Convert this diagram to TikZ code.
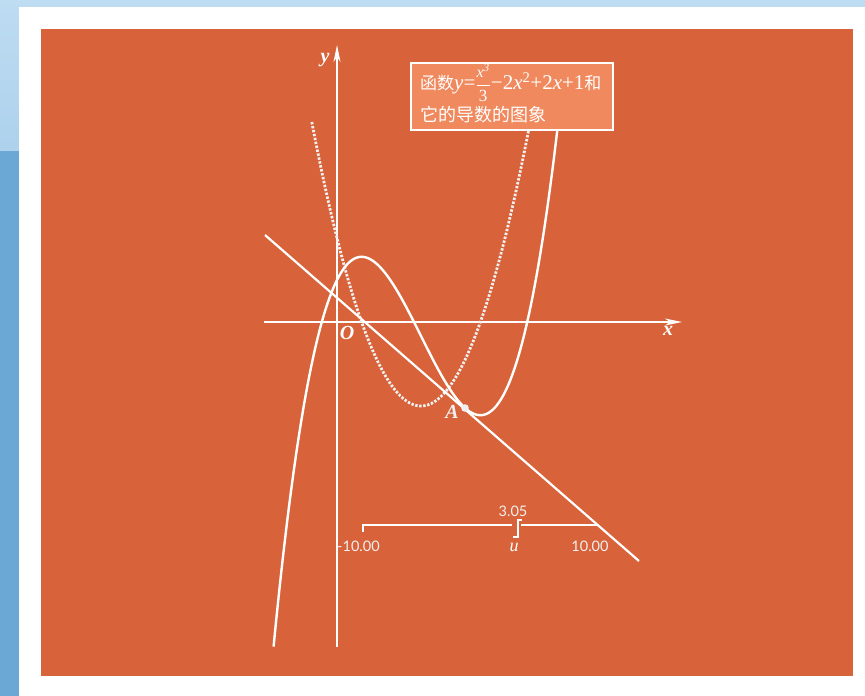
\documentclass[tikz,border=0pt]{standalone}
\usepackage{fontspec}
\setmainfont{Liberation Serif}
\newfontfamily\cjk{Noto Sans CJK SC}
\newfontfamily\numfont{Lato}
\usetikzlibrary{arrows.meta}
\definecolor{orng}{RGB}{216,98,57}
\definecolor{boxfill}{RGB}{240,138,94}
\definecolor{bluebg}{RGB}{108,168,214}
\definecolor{bluelt}{RGB}{190,220,242}
\definecolor{dotc}{RGB}{240,240,240}
\tikzset{
  axis/.style={draw=white, line width=1.6pt, -{Stealth[length=17pt,width=7pt,inset=5pt]}},
  curve/.style={draw=white, line width=2.4pt},
  dcurve/.style={draw=dotc, line width=2.8pt, dash pattern=on 2.4pt off 1.6pt},
  lbl/.style={text=white, font=\fontsize{20}{20}\selectfont\bfseries\itshape, inner sep=0pt},
  num/.style={text=dotc, font=\fontsize{14.5}{14.5}\selectfont\numfont, inner sep=0pt},
  slider/.style={draw=white, line width=1.8pt},
}
\begin{document}
\begin{tikzpicture}[x=1pt,y=-1pt]
\useasboundingbox (0,0) rectangle (865,696);
% background
\fill[bluebg] (0,0) rectangle (865,696);
\shade[top color=bluelt, bottom color=bluelt!80!bluebg] (0,0) rectangle (865,150);
\fill[white] (19,7) rectangle (865,696);
\fill[orng] (41,29) rectangle (853,676);
% axes
\coordinate (xs) at (264,322);
\coordinate (xe) at (682,322);
\coordinate (ys) at (337,647);
\coordinate (ye) at (337,45);
\draw[axis] (xs) -- (xe);
\draw[axis] (ys) -- (ye);
% derivative (dotted)
\draw[dcurve] plot[domain=-0.6:4.7, samples=120, smooth]
  ({337+42*\x},{322-42*(\x*\x-4*\x+2)});
% cubic
\draw[curve] plot[domain=-1.51:5.3, samples=160, smooth]
  ({337+42*\x},{322-42*(\x*\x*\x/3-2*\x*\x+2*\x+1)});
% tangent line
\coordinate (L1) at (265,235);
\coordinate (L2) at (639,561);
\draw[curve, line width=2.2pt] (L1) -- (L2);
% point A
\coordinate (A) at (465,408);
\fill[dotc] (A) circle (3.8pt);
% labels
\node[lbl] (ylab) at (325,60) {y};
\node[lbl] (xlab) at (668,331) {x};
\node[lbl] (olab) at (347,333) {O};
\node[lbl, text=dotc] (alab) at (452,412) {A};
% slider
\coordinate (s0) at (363,532);
\coordinate (s1) at (363,525);
\coordinate (s2) at (512,525);
\coordinate (k1) at (513,537);
\coordinate (k2) at (518,537);
\coordinate (k3) at (518,520);
\coordinate (k4) at (522,520);
\coordinate (s3) at (521,525);
\coordinate (s4) at (597,525);
\draw[slider] (s0) -- (s1) -- (s2);
\draw[slider] (k1) -- (k2) -- (k3) -- (k4);
\draw[slider] (s3) -- (s4);
\node[num] (uval) at (513,511) {3.05};
\node[lbl, font=\fontsize{18}{18}\selectfont\itshape] (ulab) at (514,547) {u};
\node[num, anchor=west] (umin) at (337,546) {-10.00};
\node[num] (umax) at (590,546) {10.00};
% title box
\node[draw=white, line width=2pt, fill=boxfill, minimum width=202pt, minimum height=67pt, inner sep=0pt] (box) at (512,96) {};
\node[anchor=west, text=white, inner sep=0pt, font=\fontsize{17}{17}\selectfont] (t1) at (420,83)
  {{\cjk 函数}{\fontsize{21}{21}\selectfont\itshape y}{\fontsize{21}{21}\selectfont=}$\displaystyle\frac{\mbox{\fontsize{16}{16}\selectfont\itshape x\textsuperscript{3}}}{\mbox{\fontsize{17}{17}\selectfont 3}}$\fontsize{21}{21}\selectfont{\textminus}2\textit{x}\textsuperscript{2}+2\textit{x}+1{\fontsize{17}{17}\selectfont\cjk 和}};
\node[anchor=west, text=white, inner sep=0pt, font=\fontsize{18}{18}\selectfont\cjk] (t2) at (420,115)
  {它的导数的图象};
\end{tikzpicture}
\end{document}
